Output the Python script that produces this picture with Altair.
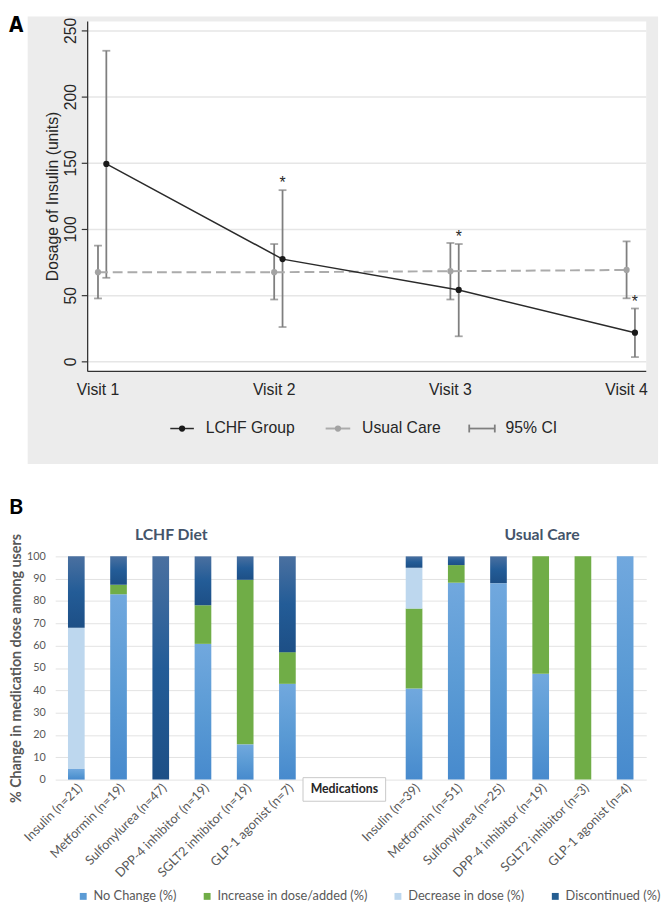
import altair as alt
import pandas as pd

# ---------------- Panel A values ----------------
visits = [1, 2, 3, 4]
visit_labels = ["Visit 1", "Visit 2", "Visit 3", "Visit 4"]
lchf_mean = [149.5, 77.6, 54.3, 22.0]
lchf_lo = [63.5, 26.3, 19.3, 3.6]
lchf_hi = [235.0, 129.7, 89.0, 40.3]
uc_mean = [67.7, 67.7, 68.5, 69.4]
uc_lo = [47.9, 47.1, 47.1, 48.0]
uc_hi = [87.8, 89.0, 89.8, 91.0]
lchf_signif = [False, True, True, True]
y_ticks_a = [0, 50, 100, 150, 200, 250]
legend_a_labels = ["LCHF Group", "Usual Care", "95% CI"]
y_title_a = "Dosage of Insulin (units)"

# ---------------- Panel B values ----------------
lchf_meds = ["Insulin (n=21)", "Metformin (n=19)", "Sulfonylurea (n=47)",
             "DPP-4 inhibitor (n=19)", "SGLT2 inhibitor (n=19)", "GLP-1 agonist (n=7)"]
usual_meds = ["Insulin (n=39)", "Metformin (n=51)", "Sulfonylurea (n=25)",
              "DPP-4 inhibitor (n=19)", "SGLT2 inhibitor (n=3)", "GLP-1 agonist (n=4)"]
statuses = ["No Change (%)", "Increase in dose/added (%)", "Decrease in dose (%)", "Discontinued (%)"]
status_colors = ["#5b9bd5", "#70ad47", "#bdd7ee", "#255e91"]
lchf_no_change = [4.8, 83.0, 0.0, 60.8, 15.8, 42.9]
lchf_increase = [0.0, 4.3, 0.0, 17.3, 73.7, 14.2]
lchf_decrease = [63.2, 0.0, 0.0, 0.0, 0.0, 0.0]
lchf_discontinued = [32.0, 12.7, 100.0, 21.9, 10.5, 42.9]
usual_no_change = [40.8, 88.2, 88.0, 47.4, 0.0, 100.0]
usual_increase = [35.8, 7.9, 0.0, 52.6, 100.0, 0.0]
usual_decrease = [18.3, 0.0, 0.0, 0.0, 0.0, 0.0]
usual_discontinued = [5.1, 3.9, 12.0, 0.0, 0.0, 0.0]
y_ticks_b = [0, 10, 20, 30, 40, 50, 60, 70, 80, 90, 100]
group_titles = ["LCHF Diet", "Usual Care"]
y_title_b = "% Change in medication dose among users"
x_title_b = "Medications"

# ======================= Panel A =======================
WA, HA = 601, 356
XA = alt.Scale(domain=[0.7572, 4.1116], nice=False, zero=False)
YA = alt.Scale(domain=[-7.28, 257.2], nice=False, zero=False)
FA = "Liberation Sans"
TXT = "#262626"
AXC = "#333333"
CI_COL = "#7f7f7f"

lchf_df = pd.DataFrame({"visit": visits, "mean": lchf_mean, "lo": lchf_lo,
                        "hi": lchf_hi, "star": lchf_signif})
uc_df = pd.DataFrame({"visit": visits, "mean": uc_mean, "lo": uc_lo, "hi": uc_hi})
ticks_df = pd.DataFrame({"v": y_ticks_a})
vis_df = pd.DataFrame({"visit": visits, "label": visit_labels})
one = pd.DataFrame({"k": [0]})


def xq(field):
    return alt.X(field, scale=XA, axis=None)


def yq(field):
    return alt.Y(field, scale=YA, axis=None)


bg = alt.Chart(one).mark_rect(fill="#ececec").encode(
    x=alt.value(-28), x2=alt.value(613), y=alt.value(-5), y2=alt.value(450))
plotbg = alt.Chart(one).mark_rect(fill="white").encode(
    x=alt.value(33), x2=alt.value(WA), y=alt.value(0), y2=alt.value(HA))

# grid, axis lines, ticks and labels of panel A (positions through the scales)
grid_a = alt.Chart(ticks_df).mark_rule(color="#e6e6e6", strokeWidth=1.5).encode(
    y=yq("v:Q"), x=alt.value(33), x2=alt.value(WA))
ytick_a = alt.Chart(ticks_df).mark_rule(color=AXC, strokeWidth=1.2).encode(
    y=yq("v:Q"), x=alt.value(27), x2=alt.value(33))
ylab_a = alt.Chart(ticks_df).mark_text(font=FA, fontSize=16, color=TXT, angle=270,
                                       align="center", baseline="middle").encode(
    y=yq("v:Q"), x=alt.value(16), text="v:Q")
ytitle_a = alt.Chart(one).mark_text(text=y_title_a, font=FA, fontSize=16, color=TXT,
                                    angle=270, align="center", baseline="middle").encode(
    x=alt.value(-2), y=alt.value(HA / 2))
yaxis_line = alt.Chart(one).mark_rule(color=AXC, strokeWidth=1.3).encode(
    x=alt.value(33), y=alt.value(0), y2=alt.value(HA))
xaxis_line = alt.Chart(one).mark_rule(color=AXC, strokeWidth=1.3).encode(
    x=alt.value(33), x2=alt.value(WA), y=alt.value(HA))
xlab_a = alt.Chart(vis_df).mark_text(font=FA, fontSize=16, color=TXT, align="center",
                                     baseline="middle").encode(
    x=xq("visit:Q"), y=alt.value(HA + 19), text="label:N")

uc_ci = alt.Chart(uc_df).mark_rule(color=CI_COL, strokeWidth=1.8).encode(
    x=xq("visit:Q"), y=yq("lo:Q"), y2="hi:Q")
uc_caps = alt.Chart(uc_df).transform_fold(["lo", "hi"]).mark_tick(
    orient="horizontal", size=8, thickness=1.8, color=CI_COL).encode(
    x=xq("visit:Q"), y=yq("value:Q"))

lchf_base = alt.Chart(lchf_df).transform_calculate(xp="datum.visit + 0.0474")
lchf_ci = lchf_base.mark_rule(color=CI_COL, strokeWidth=1.8).encode(
    x=xq("xp:Q"), y=yq("lo:Q"), y2="hi:Q")
lchf_caps = lchf_base.transform_fold(["lo", "hi"]).mark_tick(
    orient="horizontal", size=8, thickness=1.8, color=CI_COL).encode(
    x=xq("xp:Q"), y=yq("value:Q"))

uc_line = alt.Chart(uc_df).mark_line(color="#ababab", strokeWidth=2, strokeDash=[10, 5]).encode(
    x=xq("visit:Q"), y=yq("mean:Q"))
uc_pts = alt.Chart(uc_df).mark_circle(size=40, color="#a3a3a3", opacity=1).encode(
    x=xq("visit:Q"), y=yq("mean:Q"))
lchf_line = lchf_base.mark_line(color="#2a2a2a", strokeWidth=1.5).encode(
    x=xq("xp:Q"), y=yq("mean:Q"))
lchf_pts = lchf_base.mark_circle(size=40, color="#1a1a1a", opacity=1).encode(
    x=xq("xp:Q"), y=yq("mean:Q"))
stars = lchf_base.transform_filter("datum.star").mark_text(
    text="*", font=FA, fontSize=16, color=TXT, baseline="middle", dy=-7).encode(
    x=xq("xp:Q"), y=yq("hi:Q"))

# manual legend of panel A
LY = 414
leg_a = [
    alt.Chart(one).mark_rule(color="#2a2a2a", strokeWidth=1.5).encode(
        x=alt.value(117), x2=alt.value(141), y=alt.value(LY)),
    alt.Chart(one).mark_circle(size=40, color="#1a1a1a", opacity=1).encode(
        x=alt.value(129), y=alt.value(LY)),
    alt.Chart(one).mark_text(text=legend_a_labels[0], font=FA, fontSize=16, color=TXT,
                             align="left", baseline="middle").encode(
        x=alt.value(153), y=alt.value(LY)),
    alt.Chart(one).mark_rule(color="#ababab", strokeWidth=2).encode(
        x=alt.value(275), x2=alt.value(300), y=alt.value(LY)),
    alt.Chart(one).mark_circle(size=40, color="#a3a3a3", opacity=1).encode(
        x=alt.value(287.5), y=alt.value(LY)),
    alt.Chart(one).mark_text(text=legend_a_labels[1], font=FA, fontSize=16, color=TXT,
                             align="left", baseline="middle").encode(
        x=alt.value(312), y=alt.value(LY)),
    alt.Chart(one).mark_rule(color=CI_COL, strokeWidth=1.8).encode(
        x=alt.value(421), x2=alt.value(447), y=alt.value(LY)),
    alt.Chart(one).mark_rule(color=CI_COL, strokeWidth=1.8).encode(
        x=alt.value(421), y=alt.value(LY - 4), y2=alt.value(LY + 4)),
    alt.Chart(one).mark_rule(color=CI_COL, strokeWidth=1.8).encode(
        x=alt.value(447), y=alt.value(LY - 4), y2=alt.value(LY + 4)),
    alt.Chart(one).mark_text(text=legend_a_labels[2], font=FA, fontSize=16, color=TXT,
                             align="left", baseline="middle").encode(
        x=alt.value(458), y=alt.value(LY)),
]
letter_a = alt.Chart(one).mark_text(
    text="A", font="Liberation Sans Narrow, DejaVu Sans Condensed, Liberation Sans",
    fontWeight="bold", fontSize=21, color="black", align="left", baseline="middle").encode(
    x=alt.value(-47), y=alt.value(5))

panelA = alt.layer(bg, plotbg, grid_a, ytick_a, ylab_a, ytitle_a, yaxis_line, xaxis_line,
                   xlab_a, uc_ci, uc_caps, lchf_ci, lchf_caps, uc_line, uc_pts, lchf_line,
                   lchf_pts, stars, *leg_a, letter_a).properties(width=WA, height=HA)

# ======================= Panel B =======================
WB, HB = 601, 227
FB = "Lato"
GREY = "#595959"
keys_l = [f"{i:02d}|{m}" for i, m in enumerate(lchf_meds)]
keys_gap = ["06|", "07|"]
keys_u = [f"{i + 8:02d}|{m}" for i, m in enumerate(usual_meds)]
domain_b = keys_l + keys_gap + keys_u

rows = []
for keys, series in [(keys_l, [lchf_no_change, lchf_increase, lchf_decrease, lchf_discontinued]),
                     (keys_u, [usual_no_change, usual_increase, usual_decrease, usual_discontinued])]:
    for s_idx, arr in enumerate(series):
        for k, v in zip(keys, arr):
            rows.append({"key": k, "status": statuses[s_idx], "ord": s_idx, "value": v})
dfB = pd.DataFrame(rows)


def vgrad(top, bottom, mid=None):
    stops = [alt.GradientStop(offset=0, color=top)]
    if mid:
        stops.append(alt.GradientStop(offset=0.5, color=mid))
    stops.append(alt.GradientStop(offset=1, color=bottom))
    return alt.Gradient(gradient="linear", x1=0, y1=0, x2=0, y2=1, stops=stops)


fills = [vgrad("#71a8de", "#478acd", "#5b9bd5"),
         "#70ad47",
         "#bdd7ee",
         vgrad("#4a70a0", "#1d4f86", "#235c97")]

XB = alt.Scale(domain=domain_b, paddingInner=0.605, paddingOuter=0.3025)
YB = alt.Scale(domain=[0, 100], nice=False)


def xaxis_b():
    return alt.Axis(labelExpr="substring(datum.value, 3)", labelAngle=315,
                    labelAlign="right", labelBaseline="middle", labelPadding=6,
                    labelOffset=4, labelFont=FB, labelFontSize=13, labelColor=GREY,
                    labelOverlap=False, labelLimit=250, domain=False, ticks=False,
                    grid=False, title=None)


def yaxis_b():
    return alt.Axis(values=y_ticks_b, grid=True, gridColor="#e2e2e2", gridWidth=1,
                    domain=False, ticks=False, labelFont=FB, labelFontSize=11,
                    labelColor=GREY, labelPadding=10, title=y_title_b, titleFont=FB,
                    titleFontSize=14.5, titleFontWeight="bold", titleColor=GREY,
                    titlePadding=3)


stackB = alt.Chart(dfB).transform_stack(
    stack="value", groupby=["key"], sort=[alt.SortField("ord", order="ascending")],
    as_=["y0", "y1"])

# invisible layer that carries the colour legend
legend_layer = stackB.mark_bar(opacity=0).encode(
    x=alt.X("key:N", sort=None, scale=XB, axis=xaxis_b()),
    y=alt.Y("y0:Q", scale=YB, axis=yaxis_b()), y2="y1:Q",
    color=alt.Color("status:N", scale=alt.Scale(domain=statuses, range=status_colors),
                    legend=alt.Legend(orient="none", legendX=22, legendY=339,
                                      direction="horizontal", columns=4, title=None,
                                      symbolType="square", symbolSize=49,
                                      symbolStrokeWidth=0, symbolOpacity=1,
                                      labelFont=FB, labelFontSize=13,
                                      labelColor=GREY, columnPadding=24, labelOffset=4,
                                      padding=0)))

bar_layers = []
for s, f in zip(statuses, fills):
    bar_layers.append(
        stackB.transform_filter(alt.datum.status == s).mark_bar(color=f).encode(
            x=alt.X("key:N", sort=None, scale=XB, axis=xaxis_b()),
            y=alt.Y("y0:Q", scale=YB, axis=yaxis_b()), y2="y1:Q"))

spacer = alt.Chart(one).mark_rect(fill="white").encode(
    x=alt.value(0), x2=alt.value(1), y=alt.value(-94), y2=alt.value(-93))
letter_b = alt.Chart(one).mark_text(
    text="B", font=FB, fontWeight="bold", fontSize=22, color="black",
    align="left", baseline="middle").encode(x=alt.value(-47), y=alt.value(-50))
t1 = alt.Chart(one).mark_text(text=group_titles[0], font=FB, fontWeight="bold", fontSize=16,
                              color="#44546a", baseline="middle").encode(
    x=alt.value(118), y=alt.value(-22))
t2 = alt.Chart(one).mark_text(text=group_titles[1], font=FB, fontWeight="bold", fontSize=16,
                              color="#44546a", baseline="middle").encode(
    x=alt.value(495), y=alt.value(-22))
med_box = alt.Chart(one).mark_rect(fill="white", stroke="#c8c8c8", strokeWidth=1).encode(
    x=alt.value(252), x2=alt.value(336), y=alt.value(225), y2=alt.value(249))
med_txt = alt.Chart(one).mark_text(text=x_title_b, font=FB, fontWeight="bold", fontSize=12.5,
                                   color="#262626", baseline="middle").encode(
    x=alt.value(294), y=alt.value(237))

panelB = alt.layer(spacer, legend_layer, *bar_layers, med_box, med_txt, t1, t2,
                   letter_b).properties(width=WB, height=HB)

chart = alt.vconcat(panelA, panelB, spacing=0).resolve_scale(
    color="independent").resolve_legend(color="independent").properties(
    padding=0).configure_view(strokeWidth=0)

chart.save("out.html", embed_options={"renderer": "svg", "actions": False})
